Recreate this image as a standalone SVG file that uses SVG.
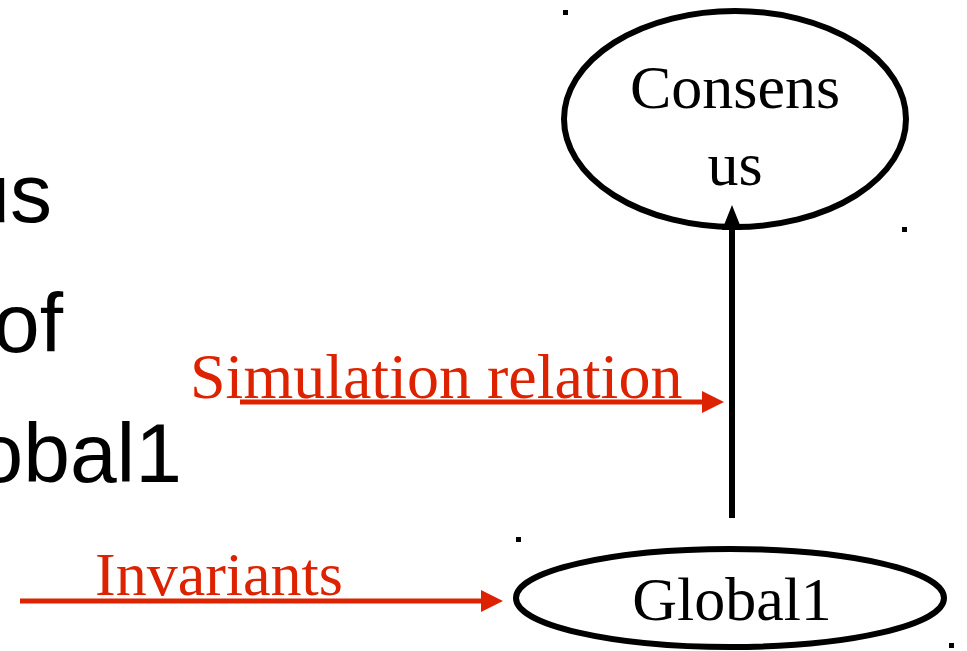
<svg xmlns="http://www.w3.org/2000/svg" width="967" height="651" viewBox="0 0 967 651">
  <style>
    .node { fill: none; stroke: #000; stroke-width: 6; }
    .label { font-family: "Liberation Serif", "Times New Roman", serif; font-size: 62px; fill: #000; text-anchor: middle; }
    .red { font-family: "Liberation Serif", "Times New Roman", serif; font-size: 62px; fill: #dd2200; }
    .side { font-family: "Liberation Sans", Arial, sans-serif; font-size: 84px; fill: #000; text-anchor: end; }
    .dot { fill: #000; }
  </style>

  <rect width="967" height="651" fill="#fff"/>

  <!-- partial slide text running off the left edge -->
  <g id="side-text">
    <text class="side" x="52" y="222">us</text>
    <text class="side" x="63" y="352">of</text>
    <text class="side" x="182" y="482">obal1</text>
  </g>

  <!-- small corner marks -->
  <g id="marks">
    <rect class="dot" x="563" y="10" width="5" height="5"/>
    <rect class="dot" x="902" y="227" width="5" height="5"/>
    <rect class="dot" x="516" y="537" width="5" height="5"/>
    <rect class="dot" x="949" y="643" width="5" height="5"/>
  </g>

  <g id="consensus">
    <ellipse class="node" cx="735" cy="119" rx="171" ry="108"/>
    <text class="label" x="735" y="108">Consens</text>
    <text class="label" x="735" y="185">us</text>
  </g>

  <g id="global1">
    <ellipse class="node" cx="730" cy="598" rx="214" ry="49"/>
    <text class="label" x="732" y="620">Global1</text>
  </g>

  <g id="connectors">
    <!-- refinement arrow Global1 -> Consensus -->
    <line x1="732" y1="518" x2="732" y2="226" stroke="#000" stroke-width="6"/>
    <path d="M722,230 L732,205 L742,230 z" fill="#000"/>
    <!-- simulation relation -->
    <line x1="240" y1="402" x2="705" y2="402" stroke="#dd2200" stroke-width="5"/>
    <path d="M702,391 L724,402 L702,413 z" fill="#dd2200"/>
    <!-- invariants -->
    <line x1="20" y1="601" x2="485" y2="601" stroke="#dd2200" stroke-width="5"/>
    <path d="M481,590 L503,601 L481,612 z" fill="#dd2200"/>
  </g>

  <g id="labels">
    <text class="red" x="190" y="398" style="font-size:64px">Simulation relation</text>
    <text class="red" x="95" y="595">Invariants</text>
  </g>
</svg>
